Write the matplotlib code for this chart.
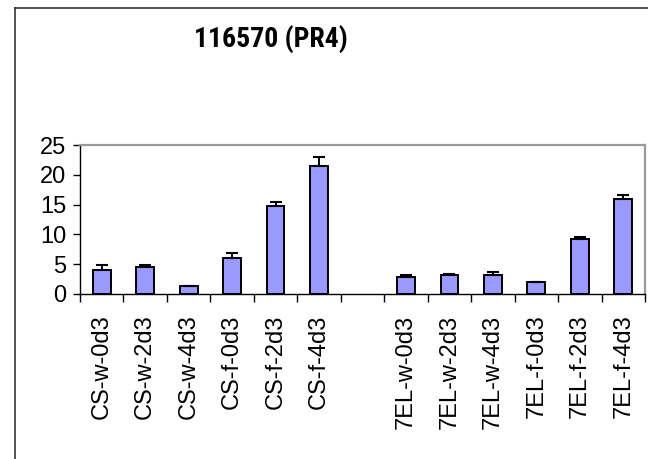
import numpy as np
import matplotlib
matplotlib.use('Agg')
import matplotlib.pyplot as plt
from matplotlib.lines import Line2D
from matplotlib import font_manager

plt.rcParams['font.family'] = ['Liberation Sans', 'DejaVu Sans']

# samples (empty slot separates the two lines)
labels = ['CS-w-0d3', 'CS-w-2d3', 'CS-w-4d3', 'CS-f-0d3', 'CS-f-2d3', 'CS-f-4d3', '',
          '7EL-w-0d3', '7EL-w-2d3', '7EL-w-4d3', '7EL-f-0d3', '7EL-f-2d3', '7EL-f-4d3']
expr = [4.0, 4.5, 1.3, 6.0, 14.7, 21.5, np.nan,
        2.8, 3.2, 3.2, 2.0, 9.2, 15.9]
err = [0.8, 0.3, 0.05, 0.8, 0.8, 1.6, np.nan,
       0.4, 0.1, 0.5, 0.05, 0.4, 0.8]

# narrow bold face for the title if one is installed
names = {f.name for f in font_manager.fontManager.ttflist}
title_font = {'family': 'Liberation Sans', 'weight': 'bold', 'size': 20}
for fam, size in [('Liberation Sans Narrow', 21), ('Roboto Condensed', 20),
                  ('Noto Sans Condensed', 19), ('Open Sans Condensed', 19)]:
    if fam in names:
        title_font = {'family': fam, 'weight': 'bold', 'size': size}
        break

W, H = 648, 459
fig = plt.figure(figsize=(W / 100, H / 100), dpi=100)
ax = fig.add_axes([80 / W, 1 - 293.7 / H, 565 / W, 148.4 / H])

x = np.arange(len(labels))
ax.bar(x, expr, width=0.41, color='#9999ff', edgecolor='black', linewidth=1.4, zorder=2)
ax.errorbar(x, expr, yerr=[np.zeros(len(err)), err], fmt='none', ecolor='black',
            elinewidth=1.4, capsize=4.5, capthick=1.5, zorder=3)

ax.set_xlim(-0.5, len(labels) - 0.5)
ax.set_ylim(0, 25)
ax.set_yticks([0, 5, 10, 15, 20, 25])
ax.tick_params(axis='y', labelsize=17, length=5, width=1, pad=5)

# ticks between categories, names centred under the bars
ax.set_xticks(np.arange(len(labels) + 1) - 0.5)
ax.set_xticklabels([])
ax.set_xticks(x, minor=True)
ax.set_xticklabels(labels, minor=True, rotation=90, fontsize=17)
ax.tick_params(axis='x', which='major', length=6, width=1)
ax.tick_params(axis='x', which='minor', length=0, pad=15)

for s in ['top', 'right']:
    ax.spines[s].set_color('#999999')
    ax.spines[s].set_linewidth(1.6)
for s in ['left', 'bottom']:
    ax.spines[s].set_color('black')
    ax.spines[s].set_linewidth(1.0)

fig.text(271 / W, 1 - 39 / H, '116570 (PR4)', ha='center', va='center', **title_font)

# chart frame
fy = 1 - 8 / H
fx = 15 / W
fig.add_artist(Line2D([fx, fx], [0, fy], color='#333333', lw=1.2))
fig.add_artist(Line2D([fx, 1], [fy, fy], color='#333333', lw=1.2))

fig.savefig('out.png', dpi=100)
